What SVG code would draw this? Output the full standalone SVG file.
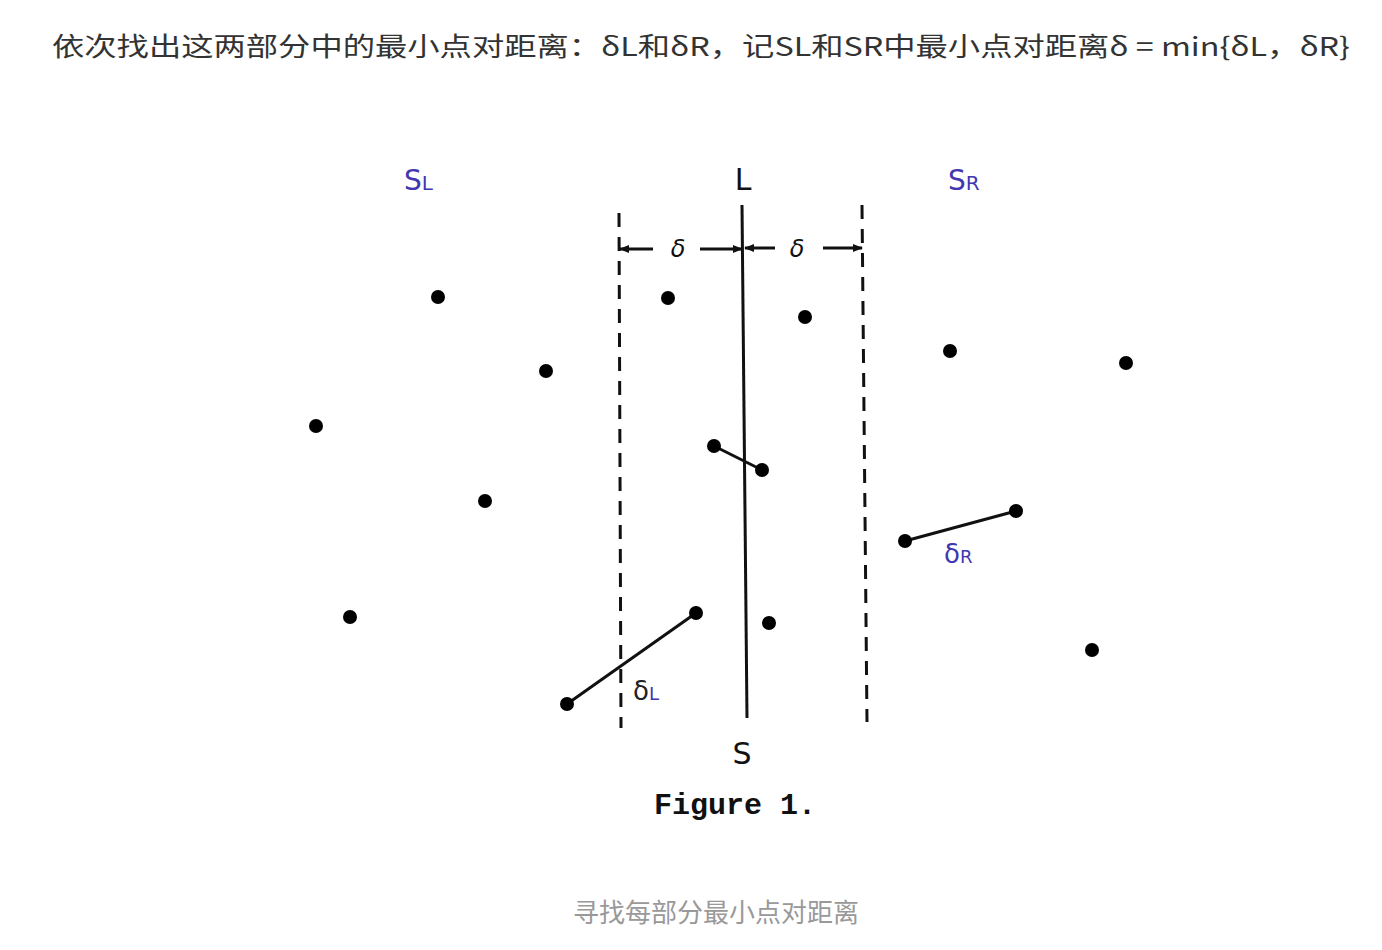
<svg xmlns="http://www.w3.org/2000/svg" width="1382" height="950" viewBox="0 0 1382 950">
<style>
.title{font-family:"Noto Sans CJK SC","Liberation Sans",sans-serif;font-size:26px;fill:#333}
.cap{font-family:"Noto Sans CJK SC","Liberation Sans",sans-serif;font-size:26px;fill:#999}
.blue{font-family:"DejaVu Sans","Liberation Sans",sans-serif;fill:#4236b0}
.blk{font-family:"DejaVu Sans","Liberation Sans",sans-serif;fill:#111}
.fig{font-family:"Liberation Mono",monospace;font-weight:bold;font-size:30px;fill:#111}
.dash{stroke:#111;stroke-width:3;stroke-dasharray:14 10;fill:none}
.ln{stroke:#111;stroke-width:3;fill:none}
.pt{fill:#000}
</style>
<defs>
<marker id="ah" markerWidth="10" markerHeight="8" refX="9" refY="4" orient="auto" markerUnits="userSpaceOnUse">
<path d="M0,0 L10,4 L0,8 Z" fill="#111"/>
</marker>
</defs>
<rect width="1382" height="950" fill="#fff"/>
<text class="title" x="52" y="56" textLength="1298" lengthAdjust="spacingAndGlyphs">依次找出这两部分中的最小点对距离：δL和δR，记SL和SR中最小点对距离δ = min{δL，δR}</text>
<g id="connectors">
<line class="dash" x1="619" y1="213" x2="621" y2="728"/>
<line class="dash" x1="862" y1="205" x2="867" y2="722"/>
<line class="ln" x1="742" y1="205" x2="747" y2="718"/>
<line class="ln" x1="653" y1="249" x2="620" y2="249" marker-end="url(#ah)"/>
<line class="ln" x1="700" y1="249" x2="742" y2="249" marker-end="url(#ah)"/>
<line class="ln" x1="775" y1="248" x2="745" y2="248" marker-end="url(#ah)"/>
<line class="ln" x1="823" y1="248" x2="862" y2="248" marker-end="url(#ah)"/>
<line class="ln" x1="714" y1="446" x2="762" y2="470"/>
<line class="ln" x1="905" y1="541" x2="1016" y2="511"/>
<line class="ln" x1="567" y1="704" x2="696" y2="613"/>
</g>
<g id="points">
<circle class="pt" cx="438" cy="297" r="7"/>
<circle class="pt" cx="546" cy="371" r="7"/>
<circle class="pt" cx="316" cy="426" r="7"/>
<circle class="pt" cx="485" cy="501" r="7"/>
<circle class="pt" cx="350" cy="617" r="7"/>
<circle class="pt" cx="668" cy="298" r="7"/>
<circle class="pt" cx="805" cy="317" r="7"/>
<circle class="pt" cx="950" cy="351" r="7"/>
<circle class="pt" cx="1126" cy="363" r="7"/>
<circle class="pt" cx="1092" cy="650" r="7"/>
<circle class="pt" cx="769" cy="623" r="7"/>
<circle class="pt" cx="714" cy="446" r="7"/>
<circle class="pt" cx="762" cy="470" r="7"/>
<circle class="pt" cx="905" cy="541" r="7"/>
<circle class="pt" cx="1016" cy="511" r="7"/>
<circle class="pt" cx="567" cy="704" r="7"/>
<circle class="pt" cx="696" cy="613" r="7"/>
</g>
<g id="labels">
<text class="blue" x="404" y="190" font-size="28">S<tspan font-size="20">L</tspan></text>
<text class="blue" x="948" y="190" font-size="28">S<tspan font-size="20">R</tspan></text>
<text class="blk" x="743" y="190" font-size="30" text-anchor="middle">L</text>
<text class="blk" x="742" y="764" font-size="30" text-anchor="middle">S</text>
<text class="blk" x="678" y="257" font-size="24" font-style="italic" text-anchor="middle" font-family="Liberation Serif">δ</text>
<text class="blk" x="797" y="257" font-size="24" font-style="italic" text-anchor="middle" font-family="Liberation Serif">δ</text>
<text x="633" y="700" font-size="26" font-family="DejaVu Sans" fill="#222">δ<tspan font-size="18" fill="#4236b0">L</tspan></text>
<text class="blue" x="944" y="563" font-size="26">δ<tspan font-size="18">R</tspan></text>
<text class="fig" x="735" y="814" text-anchor="middle">Figure 1.</text>
</g>
<text class="cap" x="716" y="922" text-anchor="middle">寻找每部分最小点对距离</text>
</svg>
